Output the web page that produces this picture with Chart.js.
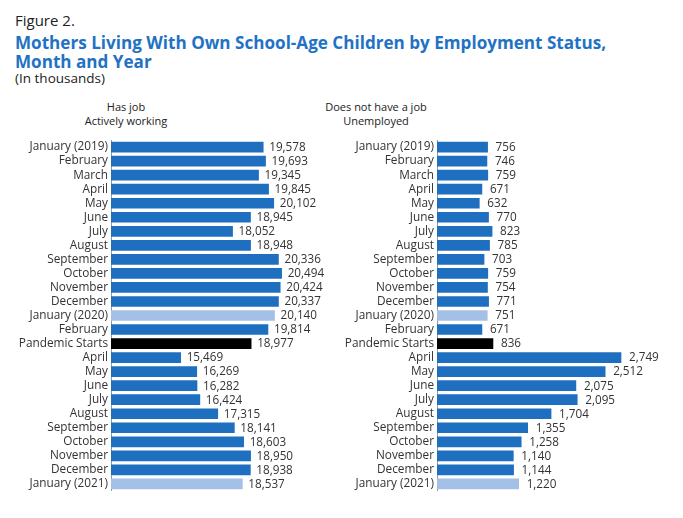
<!DOCTYPE html>
<html>
<head>
<meta charset="utf-8">
<script src="https://cdn.jsdelivr.net/npm/chart.js@4"></script>
<style>
  html, body { margin:0; padding:0; background:#fff; width:683px; height:518px; overflow:hidden; font-family:"Open Sans", sans-serif; }
  .t { position:absolute; white-space:nowrap; }
  #fig { left:15px; top:10px; font-size:15px; color:#222; }
  #title { left:15px; top:33px; font-size:17.1px; font-weight:700; color:#1f72c4; line-height:19px; }
  #sub { left:15px; top:69px; font-size:13.5px; color:#222; }
  .hdr { font-size:11px; color:#222; text-align:center; line-height:13.5px; }
  #h1 { left:26px; width:200px; top:100px; }
  #h2 { left:276px; width:200px; top:100px; }
  .cw { position:absolute; }
</style>
</head>
<body>
<div class="t" id="fig">Figure 2.</div>
<div class="t" id="title">Mothers Living With Own School-Age Children by Employment Status,<br>Month and Year</div>
<div class="t" id="sub">(In thousands)</div>
<div class="t hdr" id="h1">Has job<br>Actively working</div>
<div class="t hdr" id="h2">Does not have a job<br>Unemployed</div>
<div class="cw" style="left:0px;top:130px;width:340px;height:371px;"><canvas id="c1"></canvas></div>
<div class="cw" style="left:340px;top:130px;width:343px;height:371px;"><canvas id="c2"></canvas></div>
<script>
const categories = ["January (2019)","February","March","April","May","June","July","August","September","October","November","December","January (2020)","February","Pandemic Starts","April","May","June","July","August","September","October","November","December","January (2021)"];
const employed = [19578,19693,19345,19845,20102,18945,18052,18948,20336,20494,20424,20337,20140,19814,18977,15469,16269,16282,16424,17315,18141,18603,18950,18938,18537];
const unemployed = [756,746,759,671,632,770,823,785,703,759,754,771,751,671,836,2749,2512,2075,2095,1704,1355,1258,1140,1144,1220];
const lightIdx = [12, 24];
const blackIdx = [14];

const BLUE = '#1f6fc0', LIGHT = '#a5c0e6', BLACK = '#000000';
const colors = categories.map((c,i) => blackIdx.includes(i) ? BLACK : (lightIdx.includes(i) ? LIGHT : BLUE));

const valueLabels = {
  id: 'valueLabels',
  afterDatasetsDraw(chart) {
    const ctx = chart.ctx;
    const meta = chart.getDatasetMeta(0);
    const data = chart.data.datasets[0].data;
    ctx.save();
    ctx.font = '11.7px "Open Sans", sans-serif';
    ctx.fillStyle = '#333';
    ctx.textAlign = 'left';
    ctx.textBaseline = 'middle';
    meta.data.forEach((bar, i) => {
      ctx.fillText(data[i].toLocaleString('en-US'), bar.x + chart.options.plugins.valueLabels.gap, bar.y + 0.5);
    });
    ctx.restore();
  }
};

function make(id, values, min, max, axisW, gap, pad) {
  return new Chart(document.getElementById(id), {
    type: 'bar',
    data: { labels: categories, datasets: [{ data: values, backgroundColor: colors, barThickness: 10, borderWidth: 0 }] },
    options: {
      indexAxis: 'y',
      responsive: true,
      maintainAspectRatio: false,
      animation: false,
      layout: { padding: 0 },
      plugins: { legend: { display: false }, tooltip: { enabled: false }, valueLabels: { gap: gap } },
      scales: {
        x: { display: false, min: min, max: max },
        y: {
          afterFit(axis) { axis.width = axisW; },
          grid: { display: false, drawTicks: false },
          border: { display: true, color: '#999', width: 1 },
          ticks: { color: '#333', padding: pad, autoSkip: false, font: { family: '"Open Sans", sans-serif', size: 11.8 } }
        }
      }
    },
    plugins: [valueLabels]
  });
}
make('c1', employed, 12000, 23400, 111, 6, 3);
make('c2', unemployed, 0, 3675, 97, 8, 3);
</script>
</body>
</html>
